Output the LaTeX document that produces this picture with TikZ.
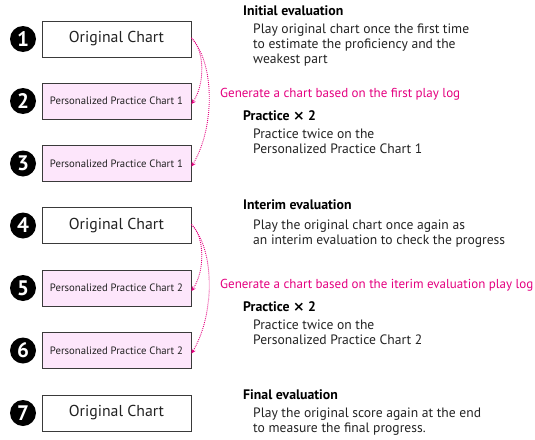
\documentclass[tikz,border=0pt]{standalone}
\usepackage{fontspec}
\setmainfont{PT Sans}
\newfontfamily\timesglyph{DejaVu Sans}
\usetikzlibrary{arrows.meta}
\definecolor{boxline}{HTML}{3A3A3A}
\definecolor{practicefill}{HTML}{FDE6FB}
\definecolor{magentalabel}{HTML}{E4007F}
\definecolor{bodytext}{HTML}{222222}
\newcommand{\twice}{{\timesglyph\bfseries ×}}
\begin{document}
\begin{tikzpicture}[x=1pt,y=-1pt,
  chartbox/.style={draw=boxline, line width=0.9pt, minimum width=149pt, minimum height=36pt, inner sep=0pt, text=bodytext},
  origbox/.style={chartbox, fill=white, font=\fontsize{15.8}{18}\selectfont},
  practicebox/.style={chartbox, fill=practicefill, font=\fontsize{10.7}{12}\selectfont},
  stepmark/.style={circle, fill=black, minimum size=26pt, inner sep=0pt, text=white, font=\fontsize{21}{22}\selectfont\bfseries},
  headtext/.style={anchor=base west, inner sep=0pt, font=\fontsize{13.8}{15}\selectfont\bfseries, text=black},
  bodyline/.style={anchor=base west, inner sep=0pt, font=\fontsize{13.6}{15}\selectfont, text=bodytext},
  genlabel/.style={anchor=base west, inner sep=0pt, font=\fontsize{13}{15}\selectfont, text=magentalabel},
  genarrow/.style={draw=magentalabel, line width=0.9pt, dash pattern=on 0.9pt off 1.1pt, -{Stealth[length=4.5pt,width=4.5pt]}}
]
\useasboundingbox (0,0) rectangle (535,439);

% chart boxes
\node[origbox]     (c1) at (116.5,39)    {Original Chart};
\node[practicebox] (c2) at (116.5,101)   {Personalized Practice Chart 1};
\node[practicebox] (c3) at (116.5,163.5) {Personalized Practice Chart 1};
\node[origbox]     (c4) at (116.5,225.5) {Original Chart};
\node[practicebox] (c5) at (116.5,288)   {Personalized Practice Chart 2};
\node[practicebox] (c6) at (116.5,350.5) {Personalized Practice Chart 2};
\node[origbox]     (c7) at (116.5,413)   {Original Chart};

% step numbers
\node[stepmark] (n1) at (23,39)    {1};
\node[stepmark] (n2) at (23,101)   {2};
\node[stepmark] (n3) at (23,163.5) {3};
\node[stepmark] (n4) at (23,225.5) {4};
\node[stepmark] (n5) at (23,288)   {5};
\node[stepmark] (n6) at (23,350.5) {6};
\node[stepmark] (n7) at (23,413)   {7};

% generation arrows
\coordinate (s1) at ([yshift=1pt]c1.east);
\draw[genarrow] (s1) .. controls (205,50) and (205,85) .. ([yshift=-3pt]c2.east);
\draw[genarrow] (s1) .. controls (216,65) and (214,130) .. ([yshift=-3pt]c3.east);
\coordinate (s4) at ([yshift=1pt]c4.east);
\draw[genarrow] (s4) .. controls (205,236.5) and (205,271.5) .. ([yshift=-3pt]c5.east);
\draw[genarrow] (s4) .. controls (216,251.5) and (214,316.5) .. ([yshift=-3pt]c6.east);

% descriptions
\node[headtext] (h1) at (243,15) {Initial evaluation};
\node[bodyline] (b1a) at (253,33) {Play original chart once the first time};
\node[bodyline] (b1b) at (253,48) {to estimate the proficiency and the};
\node[bodyline] (b1c) at (253,63) {weakest part};

\node[genlabel] (g1) at (220,97) {Generate a chart based on the first play log};

\node[headtext] (h2) at (243,120) {Practice \twice{} 2};
\node[bodyline] (b2a) at (253,138) {Practice twice on the};
\node[bodyline] (b2b) at (253,153) {Personalized Practice Chart 1};

\node[headtext] (h4) at (243,209) {Interim evaluation};
\node[bodyline] (b4a) at (253,229) {Play the original chart once again as};
\node[bodyline] (b4b) at (253,244) {an interim evaluation to check the progress};

\node[genlabel] (g4) at (220,288) {Generate a chart based on the iterim evaluation play log};

\node[headtext] (h5) at (243,311) {Practice \twice{} 2};
\node[bodyline] (b5a) at (253,329) {Practice twice on the};
\node[bodyline] (b5b) at (253,344) {Personalized Practice Chart 2};

\node[headtext] (h7) at (243,399) {Final evaluation};
\node[bodyline] (b7a) at (253,417) {Play the original score again at the end};
\node[bodyline] (b7b) at (253,432) {to measure the final progress.};
\end{tikzpicture}
\end{document}
